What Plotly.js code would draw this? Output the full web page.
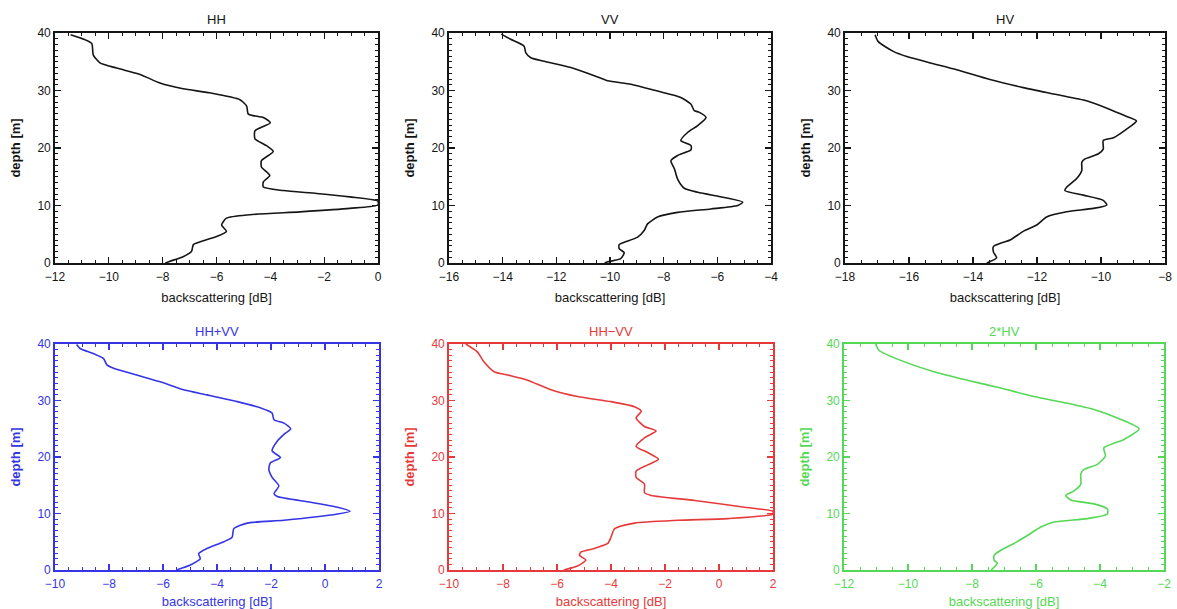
<!DOCTYPE html>
<html>
<head>
<meta charset="utf-8">
<script src="https://cdn.plot.ly/plotly-3.0.1.min.js"></script>
<style>html,body{margin:0;padding:0;background:#fff;}#chart{width:1177px;height:609px;}</style>
</head>
<body>
<div id="chart"></div>
<script>
// ---- data ----
const panelTitles = ["HH", "VV", "HV", "HH+VV", "HH\u2212VV", "2*HV"];
const xTitle = "backscattering [dB]";
const yTitle = "depth [m]";
const xRanges = [[-12, 0], [-16, -4], [-18, -8], [-10, 2], [-10, 2], [-12, -2]];
const yRange = [0, 40];

const depthHH = [39.7,38.2,36.2,34.8,33.9,32.8,31.3,30.3,29.6,28.4,27.3,25.9,25.3,24.4,23.0,21.6,20.4,19.4,17.8,16.7,15.2,14.1,13.2,12.6,12.1,11.5,10.75,10.1,9.5,8.9,8.4,7.8,6.6,5.5,4.6,3.7,3.2,2.0,1.1,0.3,0.0];
const valHH   = [-11.42,-10.64,-10.58,-10.33,-9.71,-8.84,-8.1,-7.24,-6.25,-5.13,-4.88,-4.82,-4.26,-4.0,-4.57,-4.57,-4.14,-3.89,-4.33,-4.33,-4.02,-4.26,-4.26,-3.52,-2.28,-1.05,0.0,0.0,-1.05,-2.9,-4.76,-5.63,-5.81,-5.63,-6.0,-6.6,-6.86,-6.93,-7.24,-7.73,-7.9];

const depthVV = [39.8,38.9,37.7,36.6,35.7,35.1,34.0,32.8,31.7,31.1,29.9,28.8,27.6,26.5,26.2,25.3,23.9,22.7,21.3,20.4,19.7,18.7,17.8,16.4,14.6,13.0,12.3,11.4,10.6,10.0,9.4,8.8,8.0,6.8,5.7,4.5,3.6,3.2,2.5,1.8,0.75,0.2,0.0];
const valVV   = [-14.05,-13.7,-13.2,-13.14,-12.95,-12.46,-11.46,-10.71,-10.09,-9.22,-8.23,-7.36,-6.98,-6.86,-6.67,-6.42,-6.73,-7.11,-7.36,-6.98,-6.98,-7.48,-7.73,-7.6,-7.48,-7.23,-6.73,-5.74,-5.05,-5.24,-6.24,-7.48,-8.23,-8.6,-8.72,-8.97,-9.47,-9.66,-9.66,-9.47,-9.6,-10.09,-10.2];

const depthHV = [39.7,38.5,36.8,35.9,34.8,33.6,31.9,30.5,29.3,28.2,26.7,25.6,24.7,23.3,21.8,21.3,19.8,19.0,18.1,17.5,16.1,14.7,13.2,12.6,11.8,10.9,10.1,9.5,8.9,8.0,6.6,5.5,4.0,3.4,2.9,1.9,0.9,0.0];
const valHV   = [-17.06,-16.96,-16.49,-16.07,-15.34,-14.51,-13.47,-12.43,-11.39,-10.45,-9.72,-9.25,-8.89,-9.2,-9.61,-9.93,-9.93,-10.08,-10.5,-10.6,-10.6,-10.76,-11.07,-11.13,-10.55,-9.93,-9.82,-10.24,-11.07,-11.7,-12.01,-12.43,-12.84,-13.16,-13.36,-13.36,-13.26,-13.57];

const depthSum = [39.9,39.2,38.3,37.4,36.3,35.7,34.5,33.3,31.9,31.0,29.8,28.7,27.8,26.6,26.0,25.0,24.0,22.8,21.1,19.9,19.0,17.8,16.4,14.9,13.5,13.0,12.0,11.1,10.4,9.9,8.8,8.3,7.3,5.8,5.0,3.8,2.9,2.0,0.9,0.0];
const valSum   = [-9.2,-9.07,-8.58,-8.2,-8.08,-7.83,-6.97,-6.1,-5.24,-4.37,-3.25,-2.39,-1.96,-1.89,-1.52,-1.27,-1.52,-1.77,-1.96,-1.65,-2.02,-2.08,-1.96,-1.71,-1.89,-1.77,-0.53,0.46,0.93,0.46,-1.52,-2.88,-3.38,-3.44,-3.75,-4.37,-4.68,-4.62,-4.99,-5.5];

const depthDiff = [40.0,38.6,36.8,35.1,34.5,33.6,31.9,30.7,29.8,28.9,28.1,26.9,25.4,24.6,23.4,21.9,20.8,19.6,18.6,17.5,16.4,15.2,13.7,13.2,12.3,11.1,10.4,9.9,9.1,8.8,8.3,7.3,5.8,4.7,3.8,3.2,2.6,1.75,0.7,0.0];
const valDiff   = [-9.38,-8.95,-8.7,-8.33,-7.83,-7.09,-6.23,-5.24,-4.0,-3.13,-2.88,-3.07,-2.76,-2.33,-2.76,-3.07,-2.64,-2.24,-2.64,-3.07,-3.07,-2.76,-2.76,-2.51,-0.9,0.95,2.0,2.0,0.33,-1.52,-3.13,-3.87,-4.0,-4.12,-4.62,-5.11,-5.17,-4.93,-5.24,-5.75];

const depth2HV = [40.0,38.9,37.1,35.1,33.6,32.2,30.7,29.5,28.4,26.9,25.0,23.1,21.6,20.2,18.7,17.8,17.0,15.2,14.0,13.2,12.4,11.7,10.8,9.9,9.1,8.5,7.6,6.1,4.7,3.5,2.6,1.75,1.2,0.0];
const val2HV   = [-11.01,-10.91,-10.23,-9.19,-8.15,-7.1,-6.06,-5.02,-4.19,-3.46,-2.78,-3.25,-3.88,-3.83,-4.08,-4.5,-4.6,-4.6,-4.81,-5.07,-4.92,-4.19,-3.77,-3.77,-4.4,-5.44,-5.85,-6.27,-6.69,-7.1,-7.31,-7.31,-7.21,-7.4];

// ---- styling ----
const W = 1177, H = 609;
const FONT = "Liberation Sans, Arial, sans-serif";
const colors = ["#151515", "#151515", "#151515", "#3535e6", "#e63a3a", "#55d855"];
const boxes = [ // pixel boxes [left, right, top, bottom]
  [55, 378, 33, 263], [449, 771, 33, 263], [845, 1165, 33, 263],
  [55, 379, 344, 570], [449, 773, 344, 570], [844, 1164, 344, 570]
];
const series = [
  [valHH, depthHH], [valVV, depthVV], [valHV, depthHV],
  [valSum, depthSum], [valDiff, depthDiff], [val2HV, depth2HV]
];

const data = [];
const layout = {
  width: W, height: H,
  margin: {l: 0, r: 0, t: 0, b: 0},
  paper_bgcolor: "#ffffff", plot_bgcolor: "#ffffff",
  showlegend: false,
  font: {family: FONT, size: 12},
  annotations: []
};

for (let i = 0; i < 6; i++) {
  const n = i === 0 ? "" : String(i + 1);
  const c = colors[i];
  const b = boxes[i];
  data.push({
    x: series[i][0], y: series[i][1],
    xaxis: "x" + n, yaxis: "y" + n,
    type: "scatter", mode: "lines",
    line: {color: c, width: 1.6, shape: "spline", smoothing: 0.6},
    hoverinfo: "skip"
  });
  const common = {
    showline: true, linecolor: c, linewidth: 1.8, mirror: "ticks",
    ticks: "inside", ticklen: 6, tickwidth: 1.3, tickcolor: c,
    showgrid: false, zeroline: false,
    tickfont: {color: c, size: 12, family: FONT}
  };
  layout["xaxis" + n] = Object.assign({}, common, {
    domain: [b[0] / W, b[1] / W],
    range: xRanges[i], dtick: 2, tick0: 0,
    anchor: "y" + n,
    ticklabelstandoff: 2,
    minor: {ticks: "inside", ticklen: 3, tickcolor: c, dtick: 0.5, tickwidth: 1},
    title: {text: xTitle, standoff: 10, font: {color: c, size: 13, family: FONT}}
  });
  layout["yaxis" + n] = Object.assign({}, common, {
    domain: [1 - b[3] / H, 1 - b[2] / H],
    range: yRange, dtick: 10, tick0: 0,
    anchor: "x" + n,
    minor: {ticks: "inside", ticklen: 3, tickcolor: c, dtick: 1, tickwidth: 1},
    title: {text: "<b>" + yTitle + "</b>", standoff: 14, font: {color: c, size: 13, family: FONT}}
  });
  layout.annotations.push({
    text: panelTitles[i], showarrow: false,
    xref: "paper", yref: "paper",
    x: (b[0] + b[1]) / 2 / W, y: 1 - (b[2] - 13) / H,
    xanchor: "center", yanchor: "middle",
    font: {color: c, size: 13, family: FONT}
  });
}

Plotly.newPlot("chart", data, layout, {staticPlot: true, displayModeBar: false});
</script>
</body>
</html>
